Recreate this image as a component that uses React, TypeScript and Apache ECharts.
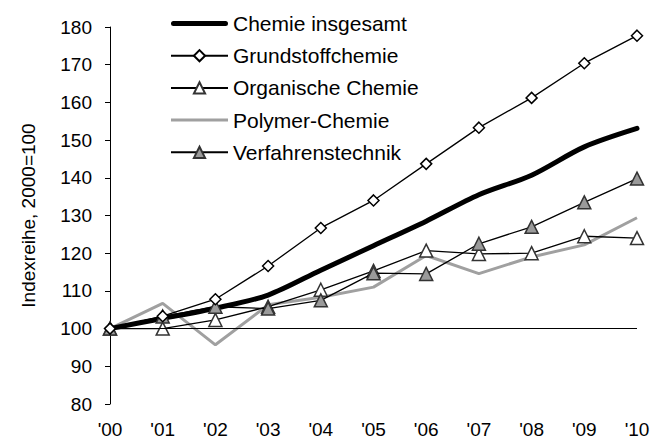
import React, { useEffect, useRef } from "react";
import * as echarts from "echarts";

const years = ["'00", "'01", "'02", "'03", "'04", "'05", "'06", "'07", "'08", "'09", "'10"];
const chemieInsgesamt = [100, 102.7, 105.4, 108.9, 115.5, 122, 128.5, 135.5, 140.7, 148.2, 153.1];
const grundstoffchemie = [100, 103.3, 107.8, 116.6, 126.7, 134, 143.7, 153.3, 161.2, 170.4, 177.7];
const organischeChemie = [100, 100, 102.3, 105.8, 110.3, 115.3, 120.7, 119.8, 120, 124.5, 124];
const polymerChemie = [100, 106.7, 95.7, 106.3, 108.3, 111, 119.4, 114.6, 119, 122.2, 129.4];
const verfahrenstechnik = [100, 103.2, 105.8, 105.3, 107.5, 114.7, 114.5, 122.5, 127, 133.5, 139.8];

const FONT = "'Liberation Sans', Arial, sans-serif";
const FS = 19;
const LFS = 21;

export default function App() {
  const ref = useRef<HTMLDivElement>(null);
  useEffect(() => {
    if (!ref.current) return;
    const chart = echarts.init(ref.current, undefined, { renderer: "svg" });
    chart.setOption({
      animation: false,
      backgroundColor: "#ffffff",
      textStyle: { fontFamily: FONT },
      grid: { left: 110, right: 33, top: 27, bottom: 39 },
      legend: {
        orient: "vertical",
        left: 170,
        top: 13,
        padding: 0,
        itemWidth: 57,
        itemHeight: 14,
        itemGap: 11.2,
        textStyle: { fontSize: LFS, color: "#000", fontFamily: FONT },
        data: [
          { name: "Chemie insgesamt", icon: "path://M2.5,0h52a2.5,2.5 0 0 1 0,5h-52a2.5,2.5 0 0 1 0,-5z" },
          { name: "Grundstoffchemie" },
          { name: "Organische Chemie" },
          { name: "Polymer-Chemie", icon: "path://M0,0h57v3h-57z" },
          { name: "Verfahrenstechnik" },
        ],
      },
      xAxis: {
        type: "category",
        data: years,
        boundaryGap: false,
        axisLine: { show: false },
        axisTick: { show: false },
        axisLabel: { color: "#000", fontSize: FS, margin: 16, fontFamily: FONT },
        splitLine: { show: false },
      },
      yAxis: {
        type: "value",
        min: 80,
        max: 180,
        interval: 10,
        name: "Indexreihe, 2000=100",
        nameLocation: "middle",
        nameGap: 72,
        nameTextStyle: { color: "#000", fontSize: FS, fontFamily: FONT },
        axisLine: { show: true, lineStyle: { color: "#000", width: 1 } },
        axisTick: { show: true, length: 5, lineStyle: { color: "#000" } },
        axisLabel: { color: "#000", fontSize: FS, margin: 18, fontFamily: FONT },
        splitLine: { show: false },
      },
      series: [
        {
          name: "Polymer-Chemie",
          type: "line",
          data: polymerChemie,
          symbol: "none",
          lineStyle: { color: "#a0a0a0", width: 3 },
          itemStyle: { color: "#a0a0a0" },
          z: 2,
          markLine: {
            silent: true,
            symbol: "none",
            label: { show: false },
            lineStyle: { color: "#000", width: 1, type: "solid" },
            data: [{ yAxis: 100 }],
          },
        },
        {
          name: "Organische Chemie",
          type: "line",
          data: organischeChemie,
          symbol: "triangle",
          symbolSize: 13,
          lineStyle: { color: "#000", width: 1.3 },
          itemStyle: { color: "#ffffff", borderColor: "#333", borderWidth: 1.5 },
          z: 3,
        },
        {
          name: "Chemie insgesamt",
          type: "line",
          data: chemieInsgesamt,
          symbol: "none",
          smooth: 0.3,
          lineStyle: { color: "#000", width: 5, cap: "round" },
          itemStyle: { color: "#000" },
          z: 4,
        },
        {
          name: "Verfahrenstechnik",
          type: "line",
          data: verfahrenstechnik,
          symbol: "triangle",
          symbolSize: 13,
          lineStyle: { color: "#000", width: 1.3 },
          itemStyle: { color: "#9a9a9a", borderColor: "#333", borderWidth: 1.5 },
          z: 5,
        },
        {
          name: "Grundstoffchemie",
          type: "line",
          data: grundstoffchemie,
          symbol: "diamond",
          symbolSize: 11,
          lineStyle: { color: "#000", width: 1.3 },
          itemStyle: { color: "#ffffff", borderColor: "#000", borderWidth: 1.5 },
          z: 6,
        },
      ],
    });
    return () => chart.dispose();
  }, []);
  return <div ref={ref} style={{ width: 670, height: 443, position: "absolute", left: 0, top: 0 }} />;
}
